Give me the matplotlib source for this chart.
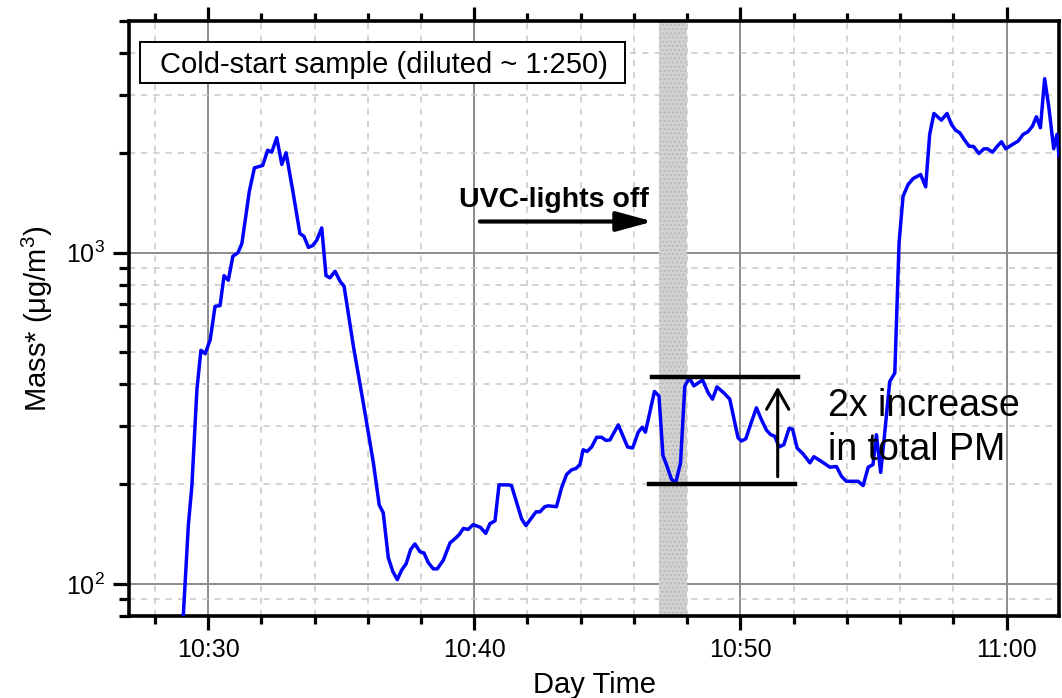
import matplotlib
matplotlib.use("Agg")
import matplotlib.pyplot as plt
from matplotlib.patches import Rectangle
from matplotlib.ticker import MultipleLocator, FuncFormatter, LogLocator, LogFormatterMathtext, NullFormatter

# time in minutes after 10:00, mass in ug/m3
minutes = [29.06, 29.26, 29.39, 29.58, 29.73, 29.89, 30.08, 30.26, 30.45, 30.60,
           30.76, 30.93, 31.12, 31.27, 31.55, 31.74, 32.05, 32.24, 32.39, 32.58,
           32.77, 32.93, 33.20, 33.45, 33.60, 33.77, 33.93, 34.08, 34.27, 34.43,
           34.58, 34.77, 34.96, 35.11, 35.46, 35.83, 36.21, 36.43, 36.58, 36.77,
           36.94, 37.11, 37.27, 37.44, 37.61, 37.77, 37.96, 38.11, 38.27, 38.46,
           38.61, 38.84, 39.09, 39.28, 39.44, 39.59, 39.77, 39.96, 40.24, 40.43,
           40.59, 40.78, 40.93, 41.12, 41.28, 41.40, 41.78, 41.94, 42.32, 42.47,
           42.65, 42.78, 43.09, 43.28, 43.47, 43.66, 43.82, 43.97, 44.09, 44.24,
           44.41, 44.60, 44.78, 44.95, 45.10, 45.41, 45.76, 45.95, 46.16, 46.31,
           46.43, 46.77, 46.94, 47.09, 47.22, 47.41, 47.57, 47.75, 47.91, 48.04,
           48.13, 48.25, 48.45, 48.58, 48.79, 48.95, 49.12, 49.38, 49.60, 49.91,
           50.04, 50.20, 50.42, 50.60, 50.79, 50.98, 51.14, 51.29, 51.45, 51.63,
           51.83, 51.96, 52.13, 52.35, 52.61, 52.76, 53.05, 53.36, 53.61, 53.80,
           53.98, 54.23, 54.42, 54.61, 54.80, 54.98, 55.11, 55.27, 55.42, 55.61,
           55.80, 55.96, 56.11, 56.30, 56.49, 56.77, 56.96, 57.11, 57.27, 57.55,
           57.76, 57.93, 58.09, 58.24, 58.43, 58.59, 58.76, 58.96, 59.15, 59.28,
           59.47, 59.64, 59.81, 59.97, 60.22, 60.43, 60.62, 60.80, 60.97, 61.12,
           61.27, 61.43, 61.59, 61.77, 61.89, 61.97, 62.05]
mass = [78, 151, 197, 386, 507, 495, 546, 688, 692, 852,
        825, 975, 998, 1065, 1532, 1802, 1832, 2037, 2009, 2222,
        1845, 2001, 1507, 1141, 1120, 1037, 1050, 1089, 1187, 852,
        839, 878, 819, 791, 521, 352, 232, 173, 164, 120,
        109, 103, 110, 115, 127, 132, 125, 124, 116, 111,
        111, 118, 133, 137, 141, 147, 146, 151, 148, 142,
        152, 155, 199, 199, 199, 198, 157, 150, 165, 165,
        171, 172, 171, 195, 214, 221, 223, 229, 254, 251,
        259, 277, 277, 271, 272, 302, 259, 257, 287, 297,
        287, 381, 369, 244, 229, 207, 202, 232, 395, 413,
        412, 396, 406, 412, 377, 361, 393, 377, 361, 276,
        270, 274, 309, 340, 313, 291, 282, 279, 259, 263,
        295, 293, 257, 247, 232, 242, 234, 225, 226, 211,
        204, 204, 204, 198, 225, 229, 282, 217, 285, 408,
        433, 1070, 1479, 1605, 1673, 1720, 1579, 2273, 2630, 2510,
        2630, 2436, 2337, 2300, 2180, 2095, 2090, 1991, 2057, 2057,
        2009, 2090, 2160, 2057, 2120, 2169, 2273, 2315, 2407, 2570,
        2380, 3348, 2736, 2057, 2273, 1954, 2150]

uv_off = [46.94, 47.99]          # shaded period
level_low = 200                  # lower bar
level_high = 421                 # upper bar

plt.rcParams['font.family'] = ['Liberation Sans', 'DejaVu Sans']
plt.rcParams['mathtext.fontset'] = 'custom'
plt.rcParams['mathtext.rm'] = 'Liberation Sans'
plt.rcParams['mathtext.it'] = 'Liberation Sans:italic'
plt.rcParams['mathtext.bf'] = 'Liberation Sans:bold'

fig = plt.figure(figsize=(10.62, 6.98), dpi=100)
ax = fig.add_axes([0.1215, 0.1175, 0.8757, 0.8524])

ax.axvspan(uv_off[0], uv_off[1], facecolor='#d2d2d2', edgecolor='#bababa',
           hatch='....', lw=0, zorder=1)
ax.plot(minutes, mass, color='#0000ff', lw=2.5, zorder=3)

ax.set_yscale('log')
ax.set_xlim(27.03, 61.97)
ax.set_ylim(80, 5000)

ax.xaxis.set_major_locator(MultipleLocator(10))
ax.xaxis.set_minor_locator(MultipleLocator(2))
ax.xaxis.set_major_formatter(FuncFormatter(
    lambda x, pos: '%d:%02d' % (10 + int(round(x)) // 60, int(round(x)) % 60)))
ax.yaxis.set_major_locator(LogLocator(base=10, numticks=10))
ax.yaxis.set_minor_locator(LogLocator(base=10, subs=range(2, 10), numticks=20))
ax.yaxis.set_major_formatter(LogFormatterMathtext())
ax.yaxis.set_minor_formatter(NullFormatter())

ax.grid(which='major', color='#8c8c8c', lw=1.4, ls='-', zorder=0)
ax.grid(which='minor', color='#c8c8c8', lw=1.1, ls=(0, (4, 4)), zorder=0)
ax.set_axisbelow(True)

for s in ax.spines.values():
    s.set_linewidth(2.6)
ax.tick_params(which='both', direction='out', top=True, right=False, width=2.3,
               labelsize=18, colors='black')
ax.tick_params(axis='x', which='major', length=10, pad=6)
ax.tick_params(axis='x', which='minor', length=6)
ax.tick_params(axis='y', which='major', length=11.5, pad=6)
ax.tick_params(axis='y', which='minor', length=7)

ax.set_xlabel('Day Time', fontsize=21, labelpad=6)
ax.set_ylabel('Mass* (\u03bcg/m$^3$)', fontsize=21, labelpad=8)

# sample box
ax.add_patch(Rectangle((0.0118, 0.8958), 0.5215, 0.0689, transform=ax.transAxes,
                       facecolor='white', edgecolor='black', lw=1.4, zorder=5))
ax.text(0.2737, 0.9126, 'Cold-start sample (diluted ~ 1:250)', transform=ax.transAxes,
        fontsize=21, ha='center', va='baseline', zorder=6)

# UVC annotation
ax.text(42.99, 1377, 'UVC-lights off', fontsize=20.5, fontweight='bold',
        ha='center', va='baseline', zorder=6)
ax.annotate('', xy=(46.71, 1241), xytext=(40.21, 1241),
            arrowprops=dict(arrowstyle='-|>,head_length=1.1,head_width=0.3',
                            mutation_scale=20, lw=3, color='black',
                            shrinkA=0, shrinkB=0), zorder=6)

# 2x increase bars
ax.plot([46.67, 52.16], [level_high, level_high], color='black', lw=3.2, zorder=4)
ax.plot([46.56, 52.04], [level_low, level_low], color='black', lw=3.2, zorder=4)
ax.annotate('', xy=(51.40, 393.6), xytext=(51.40, 210.6),
            arrowprops=dict(arrowstyle='->,head_length=0.7,head_width=0.4',
                            mutation_scale=20, lw=2.2, color='black',
                            shrinkA=0, shrinkB=0), zorder=6)
ax.text(53.28, 237, '2x increase\nin total PM', fontsize=27, ha='left',
        va='baseline', linespacing=1.28, zorder=6)

fig.savefig('out.png', dpi=100)
